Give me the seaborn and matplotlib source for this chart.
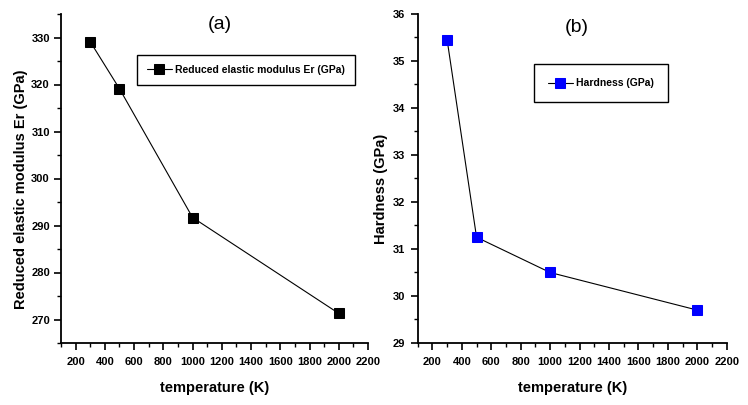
import matplotlib
matplotlib.use('Agg')
import matplotlib.pyplot as plt
from matplotlib.ticker import MultipleLocator
import seaborn as sns
import pandas as pd

temperature = [300, 500, 1000, 2000]
modulus_er = [329.1, 319.1, 291.7, 271.3]
hardness = [35.45, 31.25, 30.5, 29.7]

sns.set_theme(style='ticks')
plt.rcParams['font.family'] = ['Liberation Sans', 'DejaVu Sans']
plt.rcParams['text.color'] = 'black'
plt.rcParams['axes.labelcolor'] = 'black'

df = pd.DataFrame({'temperature': temperature, 'Er': modulus_er, 'H': hardness})

fig = plt.figure(figsize=(7.48, 4.05), dpi=100)
ax_a = fig.add_axes([61 / 748, 1 - 343 / 405, 307 / 748, 329 / 405])
ax_b = fig.add_axes([417.7 / 748, 1 - 343 / 405, 309 / 748, 329 / 405])


def style_axis(ax, ylim, ymajor, yminor, ylabel, label_x, ypad):
    ax.set_xlim(100, 2200)
    ax.set_ylim(*ylim)
    ax.xaxis.set_major_locator(MultipleLocator(200))
    ax.xaxis.set_minor_locator(MultipleLocator(100))
    ax.yaxis.set_major_locator(MultipleLocator(ymajor))
    ax.yaxis.set_minor_locator(MultipleLocator(yminor))
    sns.despine(ax=ax)
    for s in ['left', 'bottom']:
        ax.spines[s].set_linewidth(1.3)
        ax.spines[s].set_color('black')
    ax.tick_params(which='major', direction='out', length=5, width=1.2, colors='black',
                   labelsize=8)
    ax.tick_params(axis='x', which='major', pad=5)
    ax.tick_params(axis='y', which='major', pad=ypad)
    ax.tick_params(which='minor', direction='out', length=3, width=1.0, colors='black')
    for lab in ax.get_xticklabels() + ax.get_yticklabels():
        lab.set_fontweight('bold')
    ax.set_xlabel('temperature (K)', fontsize=10.5, fontweight='bold', labelpad=10)
    ax.set_ylabel(ylabel, fontsize=10.5, fontweight='bold')
    ax.yaxis.set_label_coords(label_x, 0.467)


sns.lineplot(ax=ax_a, data=df, x='temperature', y='Er', color='black', linewidth=0.8,
             marker='s', markersize=6.5, markerfacecolor='black', markeredgecolor='black',
             label='Reduced elastic modulus Er (GPa)')
sns.lineplot(ax=ax_b, data=df, x='temperature', y='H', color='black', linewidth=0.8,
             marker='s', markersize=6.5, markerfacecolor='#0000ff', markeredgecolor='#0000ff',
             label='Hardness (GPa)')

style_axis(ax_a, (265, 335), 10, 5, 'Reduced elastic modulus Er (GPa)', -0.107, 3)
style_axis(ax_b, (29, 36), 1, 0.5, 'Hardness (GPa)', -0.096, 4)

ax_a.text(0.518, 0.967, '(a)', transform=ax_a.transAxes, ha='center', va='center', fontsize=14)
ax_b.text(0.515, 0.96, '(b)', transform=ax_b.transAxes, ha='center', va='center', fontsize=14)

for ax, anchor, bpad in [(ax_a, (0.241, 0.881), 0.95), (ax_b, (0.369, 0.854), 1.35)]:
    leg = ax.legend(loc='upper left', bbox_to_anchor=anchor, fancybox=False, framealpha=1,
                    handlelength=2.4, borderpad=bpad, borderaxespad=0.2, handletextpad=0.3,
                    prop={'weight': 'bold', 'size': 7.5})
    leg.get_frame().set_edgecolor('black')
    leg.get_frame().set_linewidth(1.0)

fig.savefig('out.png', dpi=100)
